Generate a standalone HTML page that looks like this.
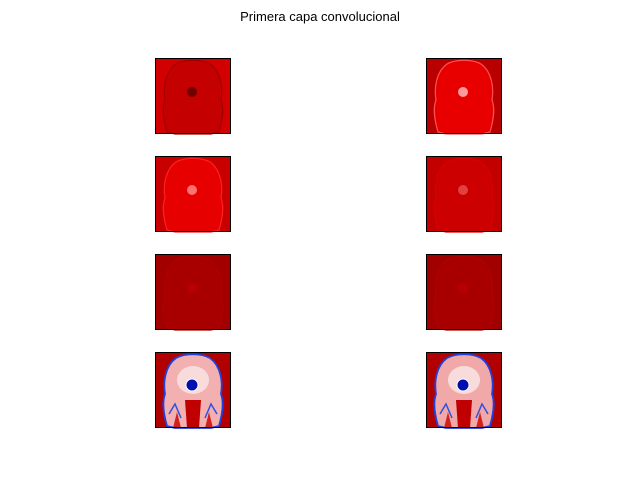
<!DOCTYPE html>
<html><head><meta charset="utf-8"><style>
html,body{margin:0;padding:0;background:#fff}
svg{display:block}
text{font-family:"Liberation Sans","DejaVu Sans",sans-serif}
</style></head><body>
<svg width="640" height="480" viewBox="0 0 640 480">
<text x="320" y="21" text-anchor="middle" font-size="13">Primera capa convolucional</text>
<defs>
<path id="head" d="M12,74 C8,60 7,50 10,42 C8,30 10,14 21,6 C30,1 46,1 55,6 C66,14 68,30 66,42 C69,50 68,60 64,74 L56,76 L20,76 Z"/>
</defs>
<g id="panels"></g>
</svg>
<script>
const panelNames=['map-1','map-2','map-3','map-4','map-5','map-6','map-7','map-8'];
const bgColors=['#d20000','#b80000','#c80000','#c20000','#a20000','#a00000','#b00000','#b00000'];
const headColors=['#c40000','#e80000','#e60000','#cc0000','#a80000','#a80000','#f2b0b0','#f0a8a8'];
const edgeColors=['#a00000','#ff5050','#ff2020','#d80000','#b00000','#b00000','#2040e0','#2040e0'];
const spotColors=['#700000','#ff9a9a','#ff7070','#e04040','#b80000','#b80000','#0010b0','#0010b0'];
const colX=[155,426], rowY=[58,156,254,352], size=76;
const g=document.getElementById('panels');
const ns='http://www.w3.org/2000/svg';
function mk(t,a){const e=document.createElementNS(ns,t);for(const k in a)e.setAttribute(k,a[k]);return e;}
for(let i=0;i<8;i++){
  const x=colX[i%2], y=rowY[Math.floor(i/2)];
  const grp=mk('g',{transform:`translate(${x},${y})`});
  
  
  grp.appendChild(mk('rect',{x:0,y:0,width:size,height:size,fill:bgColors[i]}));
  grp.appendChild(mk('use',{href:'#head',fill:headColors[i],stroke:edgeColors[i],'stroke-width':i>=6?1.8:1.2}));
  if(i>=6){
    grp.appendChild(mk('path',{d:'M14,62 L20,52 L26,66 M62,62 L56,52 L50,66',stroke:'#3050e0','stroke-width':1.5,fill:'none'}));
    grp.appendChild(mk('path',{d:'M30,48 L46,48 L44,76 L32,76 Z',fill:'#c00000'}));
    grp.appendChild(mk('path',{d:'M18,76 L22,60 L26,76 Z M58,76 L54,60 L50,76 Z',fill:'#d02020'}));
    grp.appendChild(mk('ellipse',{cx:38,cy:28,rx:16,ry:14,fill:'#f8dcdc'}));
  }
  grp.appendChild(mk('circle',{cx:37,cy:i>=6?33:34,r:i>=6?6:5,fill:spotColors[i],stroke:i>=6?'#fff':'none','stroke-width':1}));
  grp.appendChild(mk('rect',{x:0.5,y:0.5,width:size-1,height:size-1,fill:'none',stroke:'#000','stroke-width':1}));
  g.appendChild(grp);
}
</script>
</body></html>
